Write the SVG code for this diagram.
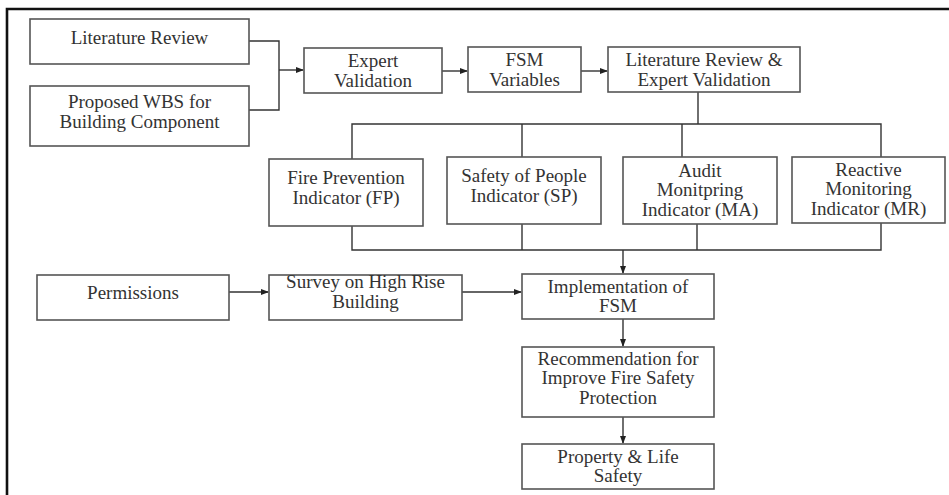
<svg xmlns="http://www.w3.org/2000/svg" width="949" height="495" viewBox="0 0 949 495">
<style>
.box{fill:#fff;stroke:#555;stroke-width:1.6}
.t{font-family:"Liberation Serif","Times New Roman",serif;font-size:19px;fill:#333;text-anchor:middle}
.c{fill:none;stroke:#333;stroke-width:1.4}
.frame{fill:none;stroke:#111;stroke-width:2.6}
</style>
<defs>
<marker id="ah" markerWidth="8" markerHeight="6" refX="7" refY="3" orient="auto" markerUnits="userSpaceOnUse">
<path d="M0,0 L8,3 L0,6 Z" fill="#222"/>
</marker>
</defs>
<rect width="949" height="495" fill="#fff"/>
<path class="frame" d="M7,495 V9 H949"/>

<g id="connectors">
<path class="c" d="M249,41 H279 V110 H249"/>
<path class="c" d="M279,70 H303" marker-end="url(#ah)"/>
<path class="c" d="M442,71 H467" marker-end="url(#ah)"/>
<path class="c" d="M581,71 H607" marker-end="url(#ah)"/>
<path class="c" d="M698,92 V124"/>
<path class="c" d="M352,159 V124 H881 V157"/>
<path class="c" d="M522,124 V157"/>
<path class="c" d="M682,124 V157"/>
<path class="c" d="M352,226 V250 H881 V223"/>
<path class="c" d="M522,224 V250"/>
<path class="c" d="M697,224 V250"/>
<path class="c" d="M623,250 V273" marker-end="url(#ah)"/>
<path class="c" d="M229,292 H268" marker-end="url(#ah)"/>
<path class="c" d="M462,292 H521" marker-end="url(#ah)"/>
<path class="c" d="M623,319 V346" marker-end="url(#ah)"/>
<path class="c" d="M623,417 V443" marker-end="url(#ah)"/>
</g>

<g id="literature-review">
<rect class="box" x="30" y="19" width="219" height="45"/>
<text class="t" x="139.5" y="44">Literature Review</text>
</g>
<g id="proposed-wbs">
<rect class="box" x="30" y="86" width="219" height="60"/>
<text class="t" x="139.5" y="108">Proposed WBS for</text>
<text class="t" x="139.5" y="127.5">Building Component</text>
</g>
<g id="expert-validation">
<rect class="box" x="304" y="48" width="138" height="45"/>
<text class="t" x="373" y="67">Expert</text>
<text class="t" x="373" y="87">Validation</text>
</g>
<g id="fsm-variables">
<rect class="box" x="468" y="47" width="113" height="45"/>
<text class="t" x="524.5" y="66">FSM</text>
<text class="t" x="524.5" y="85.5">Variables</text>
</g>
<g id="lit-review-expert">
<rect class="box" x="608" y="47" width="192" height="45"/>
<text class="t" x="704" y="66">Literature Review &amp;</text>
<text class="t" x="704" y="85.5">Expert Validation</text>
</g>
<g id="fp">
<rect class="box" x="269" y="159" width="154" height="67"/>
<text class="t" x="346" y="184">Fire Prevention</text>
<text class="t" x="346" y="203.5">Indicator (FP)</text>
</g>
<g id="sp">
<rect class="box" x="447" y="157" width="154" height="67"/>
<text class="t" x="524" y="182">Safety of People</text>
<text class="t" x="524" y="201.5">Indicator (SP)</text>
</g>
<g id="ma">
<rect class="box" x="623" y="157" width="154" height="67"/>
<text class="t" x="700" y="176.5">Audit</text>
<text class="t" x="700" y="196">Monitpring</text>
<text class="t" x="700" y="215.5">Indicator (MA)</text>
</g>
<g id="mr">
<rect class="box" x="792" y="157" width="153" height="66"/>
<text class="t" x="868.5" y="175.5">Reactive</text>
<text class="t" x="868.5" y="195">Monitoring</text>
<text class="t" x="868.5" y="214.5">Indicator (MR)</text>
</g>
<g id="permissions">
<rect class="box" x="37" y="275" width="192" height="45"/>
<text class="t" x="133" y="298.5">Permissions</text>
</g>
<g id="survey">
<rect class="box" x="269" y="275" width="193" height="45"/>
<text class="t" x="365.5" y="288">Survey on High Rise</text>
<text class="t" x="365.5" y="307.5">Building</text>
</g>
<g id="implementation">
<rect class="box" x="522" y="274" width="192" height="45"/>
<text class="t" x="618" y="292.5">Implementation of</text>
<text class="t" x="618" y="312">FSM</text>
</g>
<g id="recommendation">
<rect class="box" x="522" y="347" width="192" height="70"/>
<text class="t" x="618" y="364.5">Recommendation for</text>
<text class="t" x="618" y="384">Improve Fire Safety</text>
<text class="t" x="618" y="403.5">Protection</text>
</g>
<g id="property">
<rect class="box" x="522" y="444" width="192" height="45"/>
<text class="t" x="618" y="462.5">Property &amp; Life</text>
<text class="t" x="618" y="482">Safety</text>
</g>
</svg>
